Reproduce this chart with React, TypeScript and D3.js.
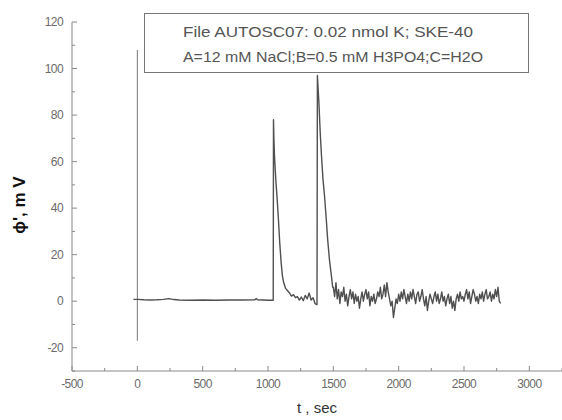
import React from "react";
import * as d3 from "d3";

// baseline before the first injection
const baseTime = [-30, 0, 50, 100, 150, 200, 240, 280, 320, 400, 500, 600, 700, 800, 900, 910, 920, 1000, 1040];
const baseVal = [0.8, 0.8, 0.6, 0.5, 0.6, 0.8, 1.1, 0.7, 0.5, 0.4, 0.5, 0.4, 0.5, 0.5, 0.6, 1.1, 0.6, 0.4, 0.4];

// first peak + decay
const peak1Time = [1042, 1045, 1050, 1060, 1070, 1080, 1090, 1100, 1110, 1120, 1135, 1150, 1165, 1180, 1195, 1210, 1225, 1240, 1255, 1270, 1285, 1300, 1315, 1330, 1345, 1360, 1375];
const peak1Val = [78, 70, 62, 52, 44, 35, 25, 17, 11, 8, 5.5, 4.5, 3.5, 2.2, 2.8, 1.5, 2, 0.5, 1.8, 0.2, 2.5, 1, 3.5, 0.5, 1.5, -1, -1.5];

// second peak + decay
const peak2Time = [1378, 1390, 1400, 1410, 1420, 1433, 1445, 1456, 1470, 1487, 1495];
const peak2Val = [97, 85, 72, 62, 53, 45, 36, 27, 18, 10, 6];

// noisy tail, every 10 s from 1500 to 2780
const tailStart = 1500;
const tailVal = [
  6, 2, 8, 1, 5, -1, 4, 2, 6, 0,
  3, -2, 2, 5, 1, 4, -1, 3, 0, 2,
  -3, 1, 4, 0, 3, 5, 1, 4, -2, 2,
  0, 3, -1, 1, 4, 2, 6, 1, 3, 7,
  2, 8, 4, 1, -2, 0, -7, -3, 1, -1,
  3, 0, 4, 1, 5, 2, -1, 3, 0, 4,
  1, 5, 2, -1, 3, 4, 0, 2, 5, 1,
  -2, 2, -4, 0, 3, 1, -1, 2, 4, 0,
  3, -1, 1, 4, 0, 2, -2, 1, 3, -1,
  2, -3, 0, -4, 1, 3, 0, 4, 1, 2,
  0, 3, 5, 1, 4, -1, 2, 5, 3, 0,
  2, -1, 3, 1, 4, 0, 3, 5, 1, 2,
  4, 0, 3, 1, 5, 2, 6, 0, -1,
];

const marker = { t: 0, lo: -17, hi: 108 };

const xTicks = [-500, 0, 500, 1000, 1500, 2000, 2500, 3000];
const yTicks = [-20, 0, 20, 40, 60, 80, 100, 120];

const legendLines = [
  "File AUTOSC07: 0.02 nmol K; SKE-40",
  "A=12 mM NaCl;B=0.5 mM H3PO4;C=H2O",
];

export default function App() {
  const x = d3.scaleLinear().domain([-500, 3250]).range([72, 562]);
  const y = d3.scaleLinear().domain([-30, 120]).range([371, 22]);

  const pts: [number, number][] = [];
  baseTime.forEach((t, i) => pts.push([t, baseVal[i]]));
  peak1Time.forEach((t, i) => pts.push([t, peak1Val[i]]));
  peak2Time.forEach((t, i) => pts.push([t, peak2Val[i]]));
  tailVal.forEach((v, i) => pts.push([tailStart + i * 10, v]));

  const line = d3.line<[number, number]>()
    .x(d => x(d[0]))
    .y(d => y(d[1]));

  const minorX = d3.range(-500, 3251, 250).filter(v => v % 500 !== 0);
  const minorY = d3.range(-30, 121, 10).filter(v => v % 20 !== 0);

  const axisColor = "#8a8a8a";
  const labelColor = "#6a6a6a";
  const font = "Liberation Sans, Arial, sans-serif";
  const legendWidths = [290, 300];

  return (
    <svg width={562} height={420} style={{ position: "absolute", left: 0, top: 0 }}>
      <rect width={562} height={420} fill="#fff" />

      {/* axes */}
      <line x1={x(-500)} x2={562} y1={y(-30)} y2={y(-30)} stroke={axisColor} />
      <line x1={x(-500)} x2={x(-500)} y1={y(-30)} y2={y(120)} stroke={axisColor} />

      {xTicks.map(t => (
        <g key={"xt" + t}>
          <line x1={x(t)} x2={x(t)} y1={y(-30)} y2={y(-30) - 5} stroke={axisColor} />
          <text x={x(t)} y={388} textAnchor="middle" fontSize={12} letterSpacing={-0.6}
            fill={labelColor} fontFamily={font}>{t}</text>
        </g>
      ))}
      {minorX.map(t => (
        <line key={"xm" + t} x1={x(t)} x2={x(t)} y1={y(-30)} y2={y(-30) - 3} stroke={axisColor} />
      ))}
      {yTicks.map(v => (
        <g key={"yt" + v}>
          <line x1={x(-500)} x2={x(-500) + 5} y1={y(v)} y2={y(v)} stroke={axisColor} />
          <text x={63} y={y(v) + 4} textAnchor="end" fontSize={12} letterSpacing={-0.6}
            fill={labelColor} fontFamily={font}>{v}</text>
        </g>
      ))}
      {minorY.map(v => (
        <line key={"ym" + v} x1={x(-500)} x2={x(-500) + 3} y1={y(v)} y2={y(v)} stroke={axisColor} />
      ))}

      {/* injection marker */}
      <line x1={x(marker.t)} x2={x(marker.t)} y1={y(marker.lo)} y2={y(marker.hi)}
        stroke="#777" strokeWidth={1} />

      {/* signal */}
      <path d={line(pts) ?? ""} fill="none" stroke="#505050" strokeWidth={1.4} strokeLinejoin="round" />

      {/* legend box */}
      <rect x={144.5} y={13.5} width={384} height={59} fill="none" stroke="#777" />
      {legendLines.map((s, i) => (
        <text key={s} x={183} y={37 + i * 25} fontSize={15} fill="#555" fontFamily={font}
          textLength={legendWidths[i]} lengthAdjust="spacingAndGlyphs">{s}</text>
      ))}

      {/* axis titles */}
      <text x={317} y={413} textAnchor="middle" fontSize={15} fill="#333" fontFamily={font}>t , sec</text>
      <text transform="translate(25,205) rotate(-90)" textAnchor="middle" fontSize={17}
        fontWeight="bold" fill="#111" fontFamily={font}>ϕ', m V</text>
    </svg>
  );
}
